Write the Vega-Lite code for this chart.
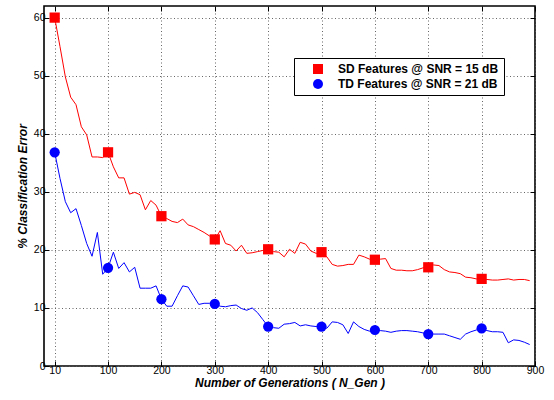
{
  "$schema": "https://vega.github.io/schema/vega-lite/v6.json",
  "width": 491,
  "height": 360,
  "autosize": {"type": "none"},
  "padding": {"left": 44, "top": 6, "right": 19, "bottom": 34},
  "background": "white",
  "config": {
    "view": {"stroke": "black", "strokeWidth": 1.6},
    "font": "Liberation Sans",
    "axis": {
      "domain": false,
      "tickColor": "black",
      "tickSize": -5,
      "tickWidth": 1,
      "labelColor": "black",
      "labelFont": "Liberation Sans",
      "labelFontSize": 10.5,
      "labelFlush": false,
      "labelOverlap": false,
      "titleColor": "black",
      "titleFont": "Liberation Sans",
      "titleFontSize": 12,
      "titleFontWeight": "bold",
      "titleFontStyle": "italic",
      "gridColor": "#555555",
      "gridDash": [1, 2.5],
      "gridWidth": 1,
      "gridOpacity": 0.9
    }
  },
  "datasets": {
    "curves": [
      {"gen": 0, "err": 60.0, "series": "SD Features @ SNR = 15 dB"},
      {"gen": 10, "err": 55.0, "series": "SD Features @ SNR = 15 dB"},
      {"gen": 20, "err": 49.8, "series": "SD Features @ SNR = 15 dB"},
      {"gen": 30, "err": 46.3, "series": "SD Features @ SNR = 15 dB"},
      {"gen": 40, "err": 45.0, "series": "SD Features @ SNR = 15 dB"},
      {"gen": 50, "err": 41.2, "series": "SD Features @ SNR = 15 dB"},
      {"gen": 60, "err": 39.8, "series": "SD Features @ SNR = 15 dB"},
      {"gen": 70, "err": 36.0, "series": "SD Features @ SNR = 15 dB"},
      {"gen": 80, "err": 36.0, "series": "SD Features @ SNR = 15 dB"},
      {"gen": 90, "err": 35.9, "series": "SD Features @ SNR = 15 dB"},
      {"gen": 100, "err": 36.8, "series": "SD Features @ SNR = 15 dB"},
      {"gen": 110, "err": 34.3, "series": "SD Features @ SNR = 15 dB"},
      {"gen": 120, "err": 32.4, "series": "SD Features @ SNR = 15 dB"},
      {"gen": 130, "err": 32.4, "series": "SD Features @ SNR = 15 dB"},
      {"gen": 140, "err": 29.6, "series": "SD Features @ SNR = 15 dB"},
      {"gen": 150, "err": 29.9, "series": "SD Features @ SNR = 15 dB"},
      {"gen": 160, "err": 29.5, "series": "SD Features @ SNR = 15 dB"},
      {"gen": 170, "err": 26.9, "series": "SD Features @ SNR = 15 dB"},
      {"gen": 180, "err": 28.5, "series": "SD Features @ SNR = 15 dB"},
      {"gen": 190, "err": 27.7, "series": "SD Features @ SNR = 15 dB"},
      {"gen": 200, "err": 25.8, "series": "SD Features @ SNR = 15 dB"},
      {"gen": 210, "err": 25.4, "series": "SD Features @ SNR = 15 dB"},
      {"gen": 220, "err": 24.9, "series": "SD Features @ SNR = 15 dB"},
      {"gen": 230, "err": 24.7, "series": "SD Features @ SNR = 15 dB"},
      {"gen": 240, "err": 25.3, "series": "SD Features @ SNR = 15 dB"},
      {"gen": 250, "err": 24.3, "series": "SD Features @ SNR = 15 dB"},
      {"gen": 260, "err": 24.0, "series": "SD Features @ SNR = 15 dB"},
      {"gen": 270, "err": 23.5, "series": "SD Features @ SNR = 15 dB"},
      {"gen": 280, "err": 23.0, "series": "SD Features @ SNR = 15 dB"},
      {"gen": 290, "err": 22.4, "series": "SD Features @ SNR = 15 dB"},
      {"gen": 300, "err": 21.8, "series": "SD Features @ SNR = 15 dB"},
      {"gen": 310, "err": 23.3, "series": "SD Features @ SNR = 15 dB"},
      {"gen": 320, "err": 21.1, "series": "SD Features @ SNR = 15 dB"},
      {"gen": 330, "err": 20.8, "series": "SD Features @ SNR = 15 dB"},
      {"gen": 340, "err": 19.8, "series": "SD Features @ SNR = 15 dB"},
      {"gen": 350, "err": 20.8, "series": "SD Features @ SNR = 15 dB"},
      {"gen": 360, "err": 19.4, "series": "SD Features @ SNR = 15 dB"},
      {"gen": 370, "err": 19.5, "series": "SD Features @ SNR = 15 dB"},
      {"gen": 380, "err": 19.7, "series": "SD Features @ SNR = 15 dB"},
      {"gen": 390, "err": 19.9, "series": "SD Features @ SNR = 15 dB"},
      {"gen": 400, "err": 20.1, "series": "SD Features @ SNR = 15 dB"},
      {"gen": 410, "err": 19.7, "series": "SD Features @ SNR = 15 dB"},
      {"gen": 420, "err": 19.6, "series": "SD Features @ SNR = 15 dB"},
      {"gen": 430, "err": 18.8, "series": "SD Features @ SNR = 15 dB"},
      {"gen": 440, "err": 20.1, "series": "SD Features @ SNR = 15 dB"},
      {"gen": 450, "err": 19.4, "series": "SD Features @ SNR = 15 dB"},
      {"gen": 460, "err": 21.3, "series": "SD Features @ SNR = 15 dB"},
      {"gen": 470, "err": 21.0, "series": "SD Features @ SNR = 15 dB"},
      {"gen": 480, "err": 19.8, "series": "SD Features @ SNR = 15 dB"},
      {"gen": 490, "err": 19.4, "series": "SD Features @ SNR = 15 dB"},
      {"gen": 500, "err": 19.6, "series": "SD Features @ SNR = 15 dB"},
      {"gen": 510, "err": 18.8, "series": "SD Features @ SNR = 15 dB"},
      {"gen": 520, "err": 17.5, "series": "SD Features @ SNR = 15 dB"},
      {"gen": 530, "err": 17.2, "series": "SD Features @ SNR = 15 dB"},
      {"gen": 540, "err": 17.3, "series": "SD Features @ SNR = 15 dB"},
      {"gen": 550, "err": 17.5, "series": "SD Features @ SNR = 15 dB"},
      {"gen": 560, "err": 17.5, "series": "SD Features @ SNR = 15 dB"},
      {"gen": 570, "err": 19.1, "series": "SD Features @ SNR = 15 dB"},
      {"gen": 580, "err": 18.8, "series": "SD Features @ SNR = 15 dB"},
      {"gen": 590, "err": 18.4, "series": "SD Features @ SNR = 15 dB"},
      {"gen": 600, "err": 18.3, "series": "SD Features @ SNR = 15 dB"},
      {"gen": 610, "err": 18.4, "series": "SD Features @ SNR = 15 dB"},
      {"gen": 620, "err": 18.5, "series": "SD Features @ SNR = 15 dB"},
      {"gen": 630, "err": 16.8, "series": "SD Features @ SNR = 15 dB"},
      {"gen": 640, "err": 16.5, "series": "SD Features @ SNR = 15 dB"},
      {"gen": 650, "err": 16.5, "series": "SD Features @ SNR = 15 dB"},
      {"gen": 660, "err": 16.4, "series": "SD Features @ SNR = 15 dB"},
      {"gen": 670, "err": 16.4, "series": "SD Features @ SNR = 15 dB"},
      {"gen": 680, "err": 16.6, "series": "SD Features @ SNR = 15 dB"},
      {"gen": 690, "err": 16.9, "series": "SD Features @ SNR = 15 dB"},
      {"gen": 700, "err": 17.0, "series": "SD Features @ SNR = 15 dB"},
      {"gen": 710, "err": 17.4, "series": "SD Features @ SNR = 15 dB"},
      {"gen": 720, "err": 17.3, "series": "SD Features @ SNR = 15 dB"},
      {"gen": 730, "err": 16.6, "series": "SD Features @ SNR = 15 dB"},
      {"gen": 740, "err": 16.2, "series": "SD Features @ SNR = 15 dB"},
      {"gen": 750, "err": 16.1, "series": "SD Features @ SNR = 15 dB"},
      {"gen": 760, "err": 15.9, "series": "SD Features @ SNR = 15 dB"},
      {"gen": 770, "err": 15.3, "series": "SD Features @ SNR = 15 dB"},
      {"gen": 780, "err": 15.2, "series": "SD Features @ SNR = 15 dB"},
      {"gen": 790, "err": 15.0, "series": "SD Features @ SNR = 15 dB"},
      {"gen": 800, "err": 15.0, "series": "SD Features @ SNR = 15 dB"},
      {"gen": 810, "err": 14.9, "series": "SD Features @ SNR = 15 dB"},
      {"gen": 820, "err": 14.8, "series": "SD Features @ SNR = 15 dB"},
      {"gen": 830, "err": 14.8, "series": "SD Features @ SNR = 15 dB"},
      {"gen": 840, "err": 14.9, "series": "SD Features @ SNR = 15 dB"},
      {"gen": 850, "err": 15.0, "series": "SD Features @ SNR = 15 dB"},
      {"gen": 860, "err": 14.8, "series": "SD Features @ SNR = 15 dB"},
      {"gen": 870, "err": 14.9, "series": "SD Features @ SNR = 15 dB"},
      {"gen": 880, "err": 14.9, "series": "SD Features @ SNR = 15 dB"},
      {"gen": 890, "err": 14.7, "series": "SD Features @ SNR = 15 dB"},
      {"gen": 0, "err": 36.8, "series": "TD Features @ SNR = 21 dB"},
      {"gen": 10, "err": 32.3, "series": "TD Features @ SNR = 21 dB"},
      {"gen": 20, "err": 28.3, "series": "TD Features @ SNR = 21 dB"},
      {"gen": 30, "err": 26.4, "series": "TD Features @ SNR = 21 dB"},
      {"gen": 40, "err": 27.1, "series": "TD Features @ SNR = 21 dB"},
      {"gen": 50, "err": 24.2, "series": "TD Features @ SNR = 21 dB"},
      {"gen": 60, "err": 21.1, "series": "TD Features @ SNR = 21 dB"},
      {"gen": 70, "err": 18.9, "series": "TD Features @ SNR = 21 dB"},
      {"gen": 80, "err": 23.0, "series": "TD Features @ SNR = 21 dB"},
      {"gen": 90, "err": 15.8, "series": "TD Features @ SNR = 21 dB"},
      {"gen": 100, "err": 16.9, "series": "TD Features @ SNR = 21 dB"},
      {"gen": 110, "err": 19.6, "series": "TD Features @ SNR = 21 dB"},
      {"gen": 120, "err": 16.8, "series": "TD Features @ SNR = 21 dB"},
      {"gen": 130, "err": 17.8, "series": "TD Features @ SNR = 21 dB"},
      {"gen": 140, "err": 16.2, "series": "TD Features @ SNR = 21 dB"},
      {"gen": 150, "err": 17.0, "series": "TD Features @ SNR = 21 dB"},
      {"gen": 160, "err": 13.4, "series": "TD Features @ SNR = 21 dB"},
      {"gen": 170, "err": 13.4, "series": "TD Features @ SNR = 21 dB"},
      {"gen": 180, "err": 13.4, "series": "TD Features @ SNR = 21 dB"},
      {"gen": 190, "err": 13.8, "series": "TD Features @ SNR = 21 dB"},
      {"gen": 200, "err": 11.5, "series": "TD Features @ SNR = 21 dB"},
      {"gen": 210, "err": 10.3, "series": "TD Features @ SNR = 21 dB"},
      {"gen": 220, "err": 10.3, "series": "TD Features @ SNR = 21 dB"},
      {"gen": 230, "err": 12.1, "series": "TD Features @ SNR = 21 dB"},
      {"gen": 240, "err": 13.8, "series": "TD Features @ SNR = 21 dB"},
      {"gen": 250, "err": 13.6, "series": "TD Features @ SNR = 21 dB"},
      {"gen": 260, "err": 12.1, "series": "TD Features @ SNR = 21 dB"},
      {"gen": 270, "err": 10.6, "series": "TD Features @ SNR = 21 dB"},
      {"gen": 280, "err": 10.8, "series": "TD Features @ SNR = 21 dB"},
      {"gen": 290, "err": 10.8, "series": "TD Features @ SNR = 21 dB"},
      {"gen": 300, "err": 10.7, "series": "TD Features @ SNR = 21 dB"},
      {"gen": 310, "err": 10.3, "series": "TD Features @ SNR = 21 dB"},
      {"gen": 320, "err": 10.2, "series": "TD Features @ SNR = 21 dB"},
      {"gen": 330, "err": 10.4, "series": "TD Features @ SNR = 21 dB"},
      {"gen": 340, "err": 10.5, "series": "TD Features @ SNR = 21 dB"},
      {"gen": 350, "err": 9.9, "series": "TD Features @ SNR = 21 dB"},
      {"gen": 360, "err": 9.6, "series": "TD Features @ SNR = 21 dB"},
      {"gen": 370, "err": 10.0, "series": "TD Features @ SNR = 21 dB"},
      {"gen": 380, "err": 9.2, "series": "TD Features @ SNR = 21 dB"},
      {"gen": 390, "err": 8.0, "series": "TD Features @ SNR = 21 dB"},
      {"gen": 400, "err": 6.8, "series": "TD Features @ SNR = 21 dB"},
      {"gen": 410, "err": 6.6, "series": "TD Features @ SNR = 21 dB"},
      {"gen": 420, "err": 6.5, "series": "TD Features @ SNR = 21 dB"},
      {"gen": 430, "err": 7.2, "series": "TD Features @ SNR = 21 dB"},
      {"gen": 440, "err": 7.3, "series": "TD Features @ SNR = 21 dB"},
      {"gen": 450, "err": 7.5, "series": "TD Features @ SNR = 21 dB"},
      {"gen": 460, "err": 6.9, "series": "TD Features @ SNR = 21 dB"},
      {"gen": 470, "err": 7.1, "series": "TD Features @ SNR = 21 dB"},
      {"gen": 480, "err": 6.9, "series": "TD Features @ SNR = 21 dB"},
      {"gen": 490, "err": 6.8, "series": "TD Features @ SNR = 21 dB"},
      {"gen": 500, "err": 6.8, "series": "TD Features @ SNR = 21 dB"},
      {"gen": 510, "err": 6.5, "series": "TD Features @ SNR = 21 dB"},
      {"gen": 520, "err": 7.6, "series": "TD Features @ SNR = 21 dB"},
      {"gen": 530, "err": 7.5, "series": "TD Features @ SNR = 21 dB"},
      {"gen": 540, "err": 7.1, "series": "TD Features @ SNR = 21 dB"},
      {"gen": 550, "err": 5.6, "series": "TD Features @ SNR = 21 dB"},
      {"gen": 560, "err": 7.6, "series": "TD Features @ SNR = 21 dB"},
      {"gen": 570, "err": 6.8, "series": "TD Features @ SNR = 21 dB"},
      {"gen": 580, "err": 6.3, "series": "TD Features @ SNR = 21 dB"},
      {"gen": 590, "err": 6.0, "series": "TD Features @ SNR = 21 dB"},
      {"gen": 600, "err": 6.2, "series": "TD Features @ SNR = 21 dB"},
      {"gen": 610, "err": 6.1, "series": "TD Features @ SNR = 21 dB"},
      {"gen": 620, "err": 6.0, "series": "TD Features @ SNR = 21 dB"},
      {"gen": 630, "err": 5.8, "series": "TD Features @ SNR = 21 dB"},
      {"gen": 640, "err": 6.0, "series": "TD Features @ SNR = 21 dB"},
      {"gen": 650, "err": 6.1, "series": "TD Features @ SNR = 21 dB"},
      {"gen": 660, "err": 6.1, "series": "TD Features @ SNR = 21 dB"},
      {"gen": 670, "err": 6.0, "series": "TD Features @ SNR = 21 dB"},
      {"gen": 680, "err": 5.9, "series": "TD Features @ SNR = 21 dB"},
      {"gen": 690, "err": 5.7, "series": "TD Features @ SNR = 21 dB"},
      {"gen": 700, "err": 5.5, "series": "TD Features @ SNR = 21 dB"},
      {"gen": 710, "err": 5.5, "series": "TD Features @ SNR = 21 dB"},
      {"gen": 720, "err": 5.5, "series": "TD Features @ SNR = 21 dB"},
      {"gen": 730, "err": 5.5, "series": "TD Features @ SNR = 21 dB"},
      {"gen": 740, "err": 5.2, "series": "TD Features @ SNR = 21 dB"},
      {"gen": 750, "err": 4.9, "series": "TD Features @ SNR = 21 dB"},
      {"gen": 760, "err": 4.6, "series": "TD Features @ SNR = 21 dB"},
      {"gen": 770, "err": 5.5, "series": "TD Features @ SNR = 21 dB"},
      {"gen": 780, "err": 5.9, "series": "TD Features @ SNR = 21 dB"},
      {"gen": 790, "err": 6.2, "series": "TD Features @ SNR = 21 dB"},
      {"gen": 800, "err": 6.5, "series": "TD Features @ SNR = 21 dB"},
      {"gen": 810, "err": 6.1, "series": "TD Features @ SNR = 21 dB"},
      {"gen": 820, "err": 5.9, "series": "TD Features @ SNR = 21 dB"},
      {"gen": 830, "err": 5.9, "series": "TD Features @ SNR = 21 dB"},
      {"gen": 840, "err": 5.8, "series": "TD Features @ SNR = 21 dB"},
      {"gen": 850, "err": 4.0, "series": "TD Features @ SNR = 21 dB"},
      {"gen": 860, "err": 4.5, "series": "TD Features @ SNR = 21 dB"},
      {"gen": 870, "err": 4.4, "series": "TD Features @ SNR = 21 dB"},
      {"gen": 880, "err": 4.1, "series": "TD Features @ SNR = 21 dB"},
      {"gen": 890, "err": 3.7, "series": "TD Features @ SNR = 21 dB"}
    ]
  },
  "data": {"name": "curves"},
  "resolve": {"axis": {"x": "independent", "y": "independent"}},
  "layer": [
    {
      "transform": [{"filter": "datum.series === 'SD Features @ SNR = 15 dB'"}],
      "mark": {"type": "line", "strokeWidth": 1, "color": "#ff0000"},
      "encoding": {
        "x": {
          "field": "gen", "type": "quantitative",
          "scale": {"domain": [-20, 900], "nice": false, "zero": false},
          "axis": {
            "orient": "bottom",
            "values": [0, 100, 200, 300, 400, 500, 600, 700, 800, 900],
            "labelExpr": "datum.value === 0 ? '10' : datum.label",
            "grid": true,
            "labelPadding": 4,
            "title": "Number of Generations ( N_Gen )",
            "titlePadding": 2
          }
        },
        "y": {
          "field": "err", "type": "quantitative",
          "scale": {"domain": [0, 62], "nice": false},
          "axis": {
            "orient": "left",
            "values": [0, 10, 20, 30, 40, 50, 60],
            "grid": true,
            "labelPadding": 4,
            "title": "% Classification Error",
            "titlePadding": 4
          }
        }
      }
    },
    {
      "transform": [{"filter": "datum.series === 'TD Features @ SNR = 21 dB'"}],
      "mark": {"type": "line", "strokeWidth": 1, "color": "#0000ff"},
      "encoding": {
        "x": {"field": "gen", "type": "quantitative", "axis": null},
        "y": {"field": "err", "type": "quantitative", "axis": null}
      }
    },
    {
      "transform": [{"filter": "datum.gen % 100 === 0 && datum.gen <= 800"}],
      "mark": {"type": "point", "filled": true, "opacity": 1, "strokeWidth": 0},
      "encoding": {
        "x": {
          "field": "gen", "type": "quantitative",
          "axis": {
            "orient": "top",
            "values": [0, 100, 200, 300, 400, 500, 600, 700, 800, 900],
            "labels": false,
            "grid": false,
            "title": null
          }
        },
        "y": {
          "field": "err", "type": "quantitative",
          "axis": {
            "orient": "right",
            "values": [0, 10, 20, 30, 40, 50, 60],
            "labels": false,
            "grid": false,
            "title": null
          }
        },
        "color": {
          "field": "series", "type": "nominal",
          "scale": {"domain": ["SD Features @ SNR = 15 dB", "TD Features @ SNR = 21 dB"], "range": ["#ff0000", "#0000ff"]},
          "legend": {
            "orient": "none",
            "legendX": 250,
            "legendY": 52,
            "title": null,
            "strokeColor": "black",
            "fillColor": "white",
            "padding": 5,
            "symbolOffset": 13,
            "symbolSize": 100,
            "labelOffset": 14,
            "labelFont": "Liberation Sans",
            "labelFontSize": 12,
            "labelFontWeight": "bold",
            "labelColor": "black",
            "rowPadding": 3,
            "labelLimit": 300
          }
        },
        "shape": {
          "field": "series", "type": "nominal",
          "scale": {"domain": ["SD Features @ SNR = 15 dB", "TD Features @ SNR = 21 dB"], "range": ["square", "circle"]}
        },
        "size": {"value": 105}
      }
    }
  ]
}
